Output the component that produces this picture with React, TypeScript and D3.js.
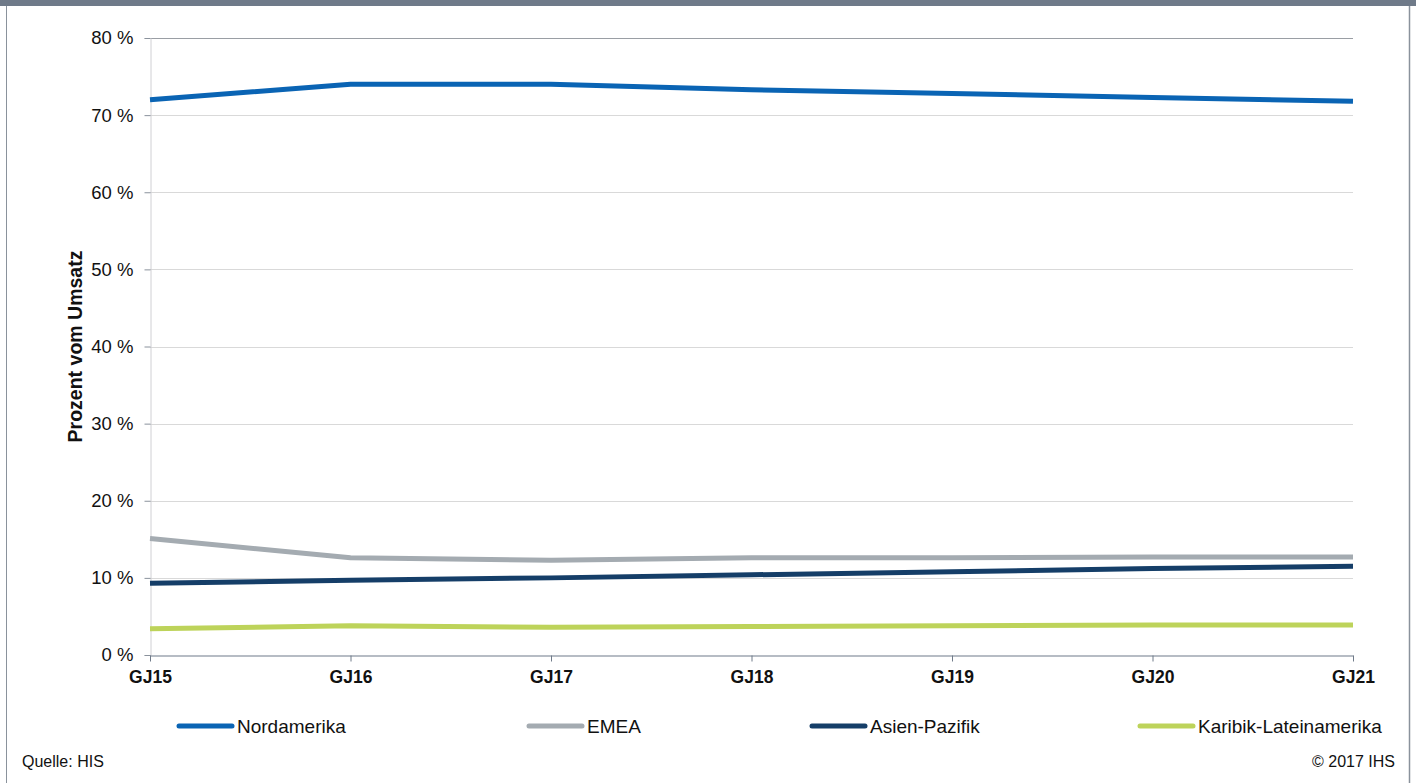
import { useEffect, useRef } from 'react';
import * as d3 from 'd3';

const categories = ['GJ15', 'GJ16', 'GJ17', 'GJ18', 'GJ19', 'GJ20', 'GJ21'];
const nordamerika = [72.0, 74.0, 74.0, 73.3, 72.8, 72.3, 71.8];
const emea = [15.1, 12.6, 12.3, 12.6, 12.6, 12.7, 12.7];
const asienPazifik = [9.3, 9.7, 10.0, 10.4, 10.8, 11.2, 11.5];
const karibik = [3.4, 3.8, 3.6, 3.7, 3.8, 3.9, 3.9];
const yTicks = [0, 10, 20, 30, 40, 50, 60, 70, 80];

const series = [
  { name: 'Nordamerika', values: nordamerika, color: '#0a64b4' },
  { name: 'EMEA', values: emea, color: '#a4abb1' },
  { name: 'Asien-Pazifik', values: asienPazifik, color: '#153e68' },
  { name: 'Karibik-Lateinamerika', values: karibik, color: '#bdd35a' },
];
const legendX = [177, 527, 810, 1138];

const App: React.FC = () => {
  const svgRef = useRef<SVGSVGElement | null>(null);

  useEffect(() => {
    if (!svgRef.current) return;
    const width = 1416;
    const height = 783;
    const margin = { top: 38, right: 63, bottom: 128, left: 150 };

    const svg = d3.select(svgRef.current);
    svg.selectAll('*').remove();
    svg.attr('width', width).attr('height', height);

    // frame
    svg.append('rect').attr('x', 0).attr('y', 0).attr('width', width).attr('height', height).attr('fill', '#fff');
    svg.append('rect').attr('x', 0).attr('y', 0).attr('width', width).attr('height', 6).attr('fill', '#6f7a89');
    svg.append('line').attr('x1', 6.5).attr('x2', 6.5).attr('y1', 6).attr('y2', height).attr('stroke', '#8a929c').attr('stroke-width', 1);
    svg.append('line').attr('x1', 1409.5).attr('x2', 1409.5).attr('y1', 6).attr('y2', height).attr('stroke', '#8a929c').attr('stroke-width', 1.5);

    const x = d3
      .scalePoint<string>()
      .domain(categories)
      .range([margin.left, width - margin.right]);
    const y = d3.scaleLinear().domain([0, 80]).range([height - margin.bottom, margin.top]);

    const font = 'Liberation Sans, Arial, sans-serif';

    // gridlines
    svg
      .append('g')
      .selectAll('line')
      .data(yTicks.filter((t) => t > 0))
      .join('line')
      .attr('x1', margin.left)
      .attr('x2', width - margin.right)
      .attr('y1', (d) => Math.round(y(d)) + 0.5)
      .attr('y2', (d) => Math.round(y(d)) + 0.5)
      .attr('stroke', (d) => (d === 80 ? '#9a9ea4' : '#d9d9d9'))
      .attr('stroke-width', 1);

    // y axis
    const yAxis = svg
      .append('g')
      .attr('transform', `translate(${margin.left + 0.5},0)`)
      .call(
        d3
          .axisLeft(y)
          .tickValues(yTicks)
          .tickSize(6)
          .tickPadding(11)
          .tickFormat((d) => `${d} %`)
      );
    yAxis.select('.domain').attr('stroke', '#d0d0d4');
    yAxis.selectAll('.tick line').attr('stroke', '#8a929c');
    yAxis.selectAll('text').attr('font-family', font).attr('font-size', 18.5).attr('fill', '#111');

    // lines
    const line = d3
      .line<number>()
      .x((_, i) => x(categories[i]) as number)
      .y((d) => y(d));
    series.forEach((s) => {
      svg
        .append('path')
        .datum(s.values)
        .attr('fill', 'none')
        .attr('stroke', s.color)
        .attr('stroke-width', 5)
        .attr('stroke-linejoin', 'round')
        .attr('d', line);
    });

    // x axis
    const xAxis = svg
      .append('g')
      .attr('transform', `translate(0,${Math.round(y(0)) + 0.5})`)
      .call(d3.axisBottom(x).tickSize(6).tickSizeOuter(0).tickPadding(9));
    xAxis.select('.domain').attr('stroke', '#6f7a89').attr('stroke-width', 1.2);
    xAxis.selectAll('.tick line').attr('stroke', '#6f7a89');
    xAxis
      .selectAll('text')
      .attr('font-family', font)
      .attr('font-size', 17.5)
      .attr('font-weight', 'bold')
      .attr('fill', '#111');

    // y axis title
    svg
      .append('text')
      .attr('transform', `translate(82,${(y(0) + y(80)) / 2}) rotate(-90)`)
      .attr('text-anchor', 'middle')
      .attr('font-family', font)
      .attr('font-size', 19.5)
      .attr('font-weight', 'bold')
      .attr('fill', '#111')
      .text('Prozent vom Umsatz');

    // legend
    const legend = svg
      .append('g')
      .selectAll('g')
      .data(series)
      .join('g')
      .attr('transform', (_, i) => `translate(${legendX[i]},726)`);
    legend
      .append('line')
      .attr('x1', 2)
      .attr('x2', 55)
      .attr('stroke', (d) => d.color)
      .attr('stroke-width', 5)
      .attr('stroke-linecap', 'round');
    legend
      .append('text')
      .attr('x', 60)
      .attr('dy', '0.35em')
      .attr('font-family', font)
      .attr('font-size', 19)
      .attr('fill', '#111')
      .text((d) => d.name);

    // footer
    svg
      .append('text')
      .attr('x', 22)
      .attr('y', 767)
      .attr('font-family', font)
      .attr('font-size', 16)
      .attr('fill', '#111')
      .text('Quelle: HIS');
    svg
      .append('text')
      .attr('x', 1395)
      .attr('y', 767)
      .attr('text-anchor', 'end')
      .attr('font-family', font)
      .attr('font-size', 16)
      .attr('fill', '#111')
      .text('© 2017 IHS');
  }, []);

  return (
    <div style={{ position: 'absolute', left: 0, top: 0 }}>
      <svg ref={svgRef}></svg>
    </div>
  );
};

export default App;
